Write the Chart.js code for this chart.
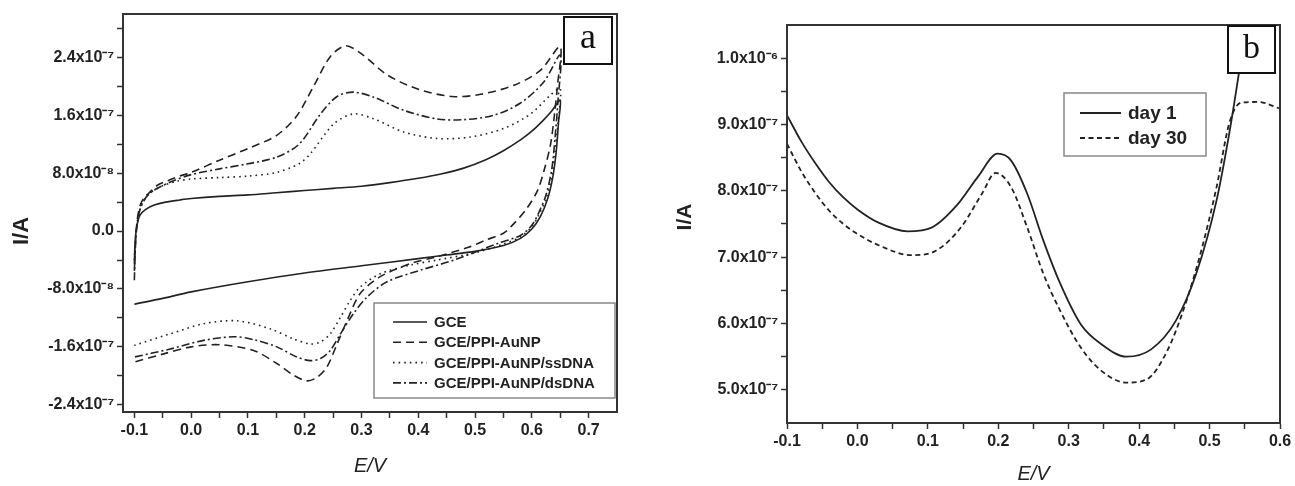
<!DOCTYPE html>
<html>
<head>
<meta charset="utf-8">
<script src="https://cdn.jsdelivr.net/npm/chart.js@4.4.0/dist/chart.umd.min.js"></script>
<style>
  body { margin: 0; background: #fff; }
  .panel { position: absolute; top: 0; height: 486px; }
  #wrap-a { left: 0; width: 650px; }
  #wrap-b { left: 650px; width: 645px; }
</style>
</head>
<body>
<div class="panel" id="wrap-a"><canvas id="cv-a"></canvas></div>
<div class="panel" id="wrap-b"><canvas id="cv-b"></canvas></div>
<script>
// PANEL A - cyclic voltammograms, current in units of 1e-8 A
const unitA = 1e-8;

const gceFwdE = [-0.1, -0.099, -0.097, -0.094, -0.09, -0.08, -0.065, -0.045, -0.02, 0.0, 0.05, 0.1, 0.15, 0.2, 0.25, 0.3, 0.35, 0.4, 0.44, 0.48, 0.52, 0.55, 0.58, 0.6, 0.62, 0.635, 0.65];
const gceFwdI = [-4.5, -2.0, 0.0, 1.3, 2.2, 3.0, 3.6, 4.0, 4.3, 4.5, 4.8, 5.0, 5.3, 5.6, 5.9, 6.2, 6.7, 7.3, 7.9, 8.7, 9.9, 11.1, 12.6, 13.8, 15.3, 16.6, 18.1];
const gceRevE = [0.647, 0.643, 0.637, 0.628, 0.615, 0.6, 0.58, 0.55, 0.5, 0.45, 0.4, 0.3, 0.2, 0.1, 0.0, -0.05, -0.1];
const gceRevI = [15.0, 11.0, 7.5, 4.5, 2.0, 0.3, -1.0, -2.0, -2.8, -3.3, -3.8, -4.8, -5.8, -7.0, -8.4, -9.3, -10.1];

const auFwdE = [-0.1, -0.098, -0.095, -0.09, -0.083, -0.075, -0.06, -0.04, -0.02, 0.0, 0.05, 0.1, 0.15, 0.185, 0.215, 0.245, 0.272, 0.3, 0.345, 0.4, 0.46, 0.51, 0.57, 0.615, 0.65];
const auFwdI = [-5.5, -1.5, 1.5, 3.5, 4.6, 5.2, 6.3, 7.0, 7.6, 8.1, 9.8, 11.4, 13.2, 15.8, 19.9, 24.1, 25.6, 24.5, 21.6, 19.6, 18.6, 18.9, 20.2, 22.2, 25.5];
const auRevE = [0.645, 0.64, 0.633, 0.622, 0.61, 0.59, 0.568, 0.55, 0.52, 0.49, 0.43, 0.386, 0.333, 0.298, 0.275, 0.257, 0.239, 0.222, 0.204, 0.18, 0.151, 0.11, 0.05, 0.0, -0.05, -0.1];
const auRevI = [20.0, 16.2, 12.0, 8.5, 5.6, 3.0, 1.0, -0.3, -1.2, -2.2, -3.6, -4.5, -6.3, -8.6, -12.3, -15.6, -18.8, -20.2, -20.7, -19.9, -18.3, -16.5, -15.7, -16.0, -17.0, -18.1];

const ssFwdE = [-0.1, -0.098, -0.095, -0.09, -0.084, -0.07, -0.049, -0.025, 0.0, 0.05, 0.1, 0.15, 0.19, 0.21, 0.251, 0.286, 0.322, 0.374, 0.433, 0.492, 0.551, 0.598, 0.633, 0.65];
const ssFwdI = [-4.0, -1.0, 1.2, 3.0, 4.2, 5.4, 6.3, 6.9, 7.2, 7.4, 7.6, 8.1, 9.3, 10.7, 14.8, 16.2, 15.5, 13.7, 12.8, 13.0, 14.2, 16.2, 18.8, 19.7];
const ssRevE = [0.646, 0.641, 0.635, 0.625, 0.612, 0.6, 0.58, 0.55, 0.5, 0.433, 0.386, 0.333, 0.298, 0.28, 0.263, 0.245, 0.228, 0.21, 0.18, 0.139, 0.081, 0.022, -0.037, -0.1];
const ssRevI = [15.0, 11.0, 7.5, 4.5, 2.2, 0.6, -0.8, -1.8, -3.0, -4.0, -4.7, -5.9, -7.7, -9.6, -11.9, -14.2, -15.3, -15.6, -14.9, -13.5, -12.4, -12.8, -14.2, -15.8];

const dsFwdE = [-0.1, -0.098, -0.095, -0.09, -0.08, -0.07, -0.055, -0.03, 0.0, 0.05, 0.1, 0.15, 0.19, 0.228, 0.257, 0.286, 0.322, 0.374, 0.433, 0.48, 0.533, 0.58, 0.621, 0.65];
const dsFwdI = [-6.8, -2.0, 1.0, 3.0, 4.6, 5.4, 6.1, 7.0, 7.8, 8.6, 9.3, 10.2, 12.0, 16.2, 18.6, 19.2, 18.5, 16.7, 15.5, 15.4, 16.0, 17.7, 20.6, 24.3];
const dsRevE = [0.646, 0.641, 0.635, 0.625, 0.612, 0.6, 0.58, 0.54, 0.463, 0.404, 0.345, 0.31, 0.286, 0.263, 0.245, 0.228, 0.21, 0.186, 0.151, 0.11, 0.075, 0.022, -0.037, -0.1];
const dsRevI = [18.0, 13.0, 8.5, 5.0, 2.5, 0.8, -0.6, -1.7, -4.0, -5.4, -7.0, -9.1, -11.4, -14.2, -16.5, -17.6, -17.9, -17.4, -16.0, -15.0, -14.6, -15.1, -16.3, -17.4];

const seriesA = ["GCE", "GCE/PPI-AuNP", "GCE/PPI-AuNP/ssDNA", "GCE/PPI-AuNP/dsDNA"];

const xTicksA = [-0.1, 0.0, 0.1, 0.2, 0.3, 0.4, 0.5, 0.6, 0.7];
const xLabelsA = ["-0.1", "0.0", "0.1", "0.2", "0.3", "0.4", "0.5", "0.6", "0.7"];
const xMinorA = [-0.05, 0.05, 0.15, 0.25, 0.35, 0.45, 0.55, 0.65];
const yTicksA = [-2.4e-7, -1.6e-7, -8e-8, 0, 8e-8, 1.6e-7, 2.4e-7];
const yLabelsA = ["-2.4x10\u207B\u2077", "-1.6x10\u207B\u2077", "-8.0x10\u207B\u2078", "0.0", "8.0x10\u207B\u2078", "1.6x10\u207B\u2077", "2.4x10\u207B\u2077"];
const yMinorA = [-2.0e-7, -1.2e-7, -4e-8, 4e-8, 1.2e-7, 2.0e-7, 2.8e-7];

// PANEL B - stability, current in units of 1e-7 A
const unitB = 1e-7;
const day1E = [-0.1, -0.08, -0.06, -0.04, -0.02, 0.0, 0.03, 0.071, 0.106, 0.141, 0.171, 0.199, 0.218, 0.241, 0.264, 0.288, 0.317, 0.346, 0.382, 0.417, 0.452, 0.481, 0.51, 0.528, 0.543, 0.553];
const day1I = [9.14, 8.75, 8.42, 8.13, 7.9, 7.72, 7.52, 7.39, 7.45, 7.78, 8.21, 8.56, 8.46, 7.96, 7.25, 6.6, 5.99, 5.69, 5.5, 5.61, 6.04, 6.75, 7.86, 8.87, 9.87, 10.6];
const day30E = [-0.1, -0.08, -0.06, -0.04, -0.02, 0.0, 0.03, 0.077, 0.112, 0.147, 0.177, 0.196, 0.218, 0.241, 0.264, 0.288, 0.317, 0.346, 0.382, 0.411, 0.44, 0.464, 0.487, 0.51, 0.528, 0.545, 0.569, 0.6];
const day30I = [8.71, 8.3, 7.97, 7.7, 7.5, 7.35, 7.18, 7.03, 7.1, 7.45, 7.96, 8.27, 8.06, 7.45, 6.75, 6.19, 5.64, 5.29, 5.11, 5.16, 5.59, 6.24, 7.05, 8.06, 9.02, 9.33, 9.34, 9.24];

const seriesB = ["day 1", "day 30"];

const xTicksB = [-0.1, 0.0, 0.1, 0.2, 0.3, 0.4, 0.5, 0.6];
const xLabelsB = ["-0.1", "0.0", "0.1", "0.2", "0.3", "0.4", "0.5", "0.6"];
const xMinorB = [-0.05, 0.05, 0.15, 0.25, 0.35, 0.45, 0.55];
const yTicksB = [5e-7, 6e-7, 7e-7, 8e-7, 9e-7, 1e-6];
const yLabelsB = ["5.0x10\u207B\u2077", "6.0x10\u207B\u2077", "7.0x10\u207B\u2077", "8.0x10\u207B\u2077", "9.0x10\u207B\u2077", "1.0x10\u207B\u2076"];
const yMinorB = [5.5e-7, 6.5e-7, 7.5e-7, 8.5e-7, 9.5e-7];

// helpers
const ink = "#222";
const sans = "'Liberation Sans', Arial, sans-serif";
const pts = (es, is, unit) => es.map((e, i) => ({ x: e, y: is[i] * unit }));
const tickList = (major, minor) => major.concat(minor).sort((a, b) => a - b).map(v => ({ value: v }));
const tickLabel = (major, labels) => v => {
  const i = major.findIndex(m => Math.abs(m - v) < 1e-12);
  return i < 0 ? "" : labels[i];
};

Chart.defaults.font.family = sans;
Chart.defaults.color = ink;

const axis = (min, max, major, minor, labels, title, fit) => ({
  type: "linear",
  min: min,
  max: max,
  afterBuildTicks: s => { s.ticks = tickList(major, minor); },
  afterFit: fit,
  ticks: { callback: tickLabel(major, labels), autoSkip: false, maxRotation: 0, font: { size: 16, weight: "bold" }, color: ink, padding: 3 },
  grid: { drawOnChartArea: false, drawTicks: true, tickLength: 6, tickColor: "#333", tickWidth: 1.5 },
  border: { color: "#333", width: 2 },
  title: title,
});

// frame, y title, legend and panel letter
const decor = (cfg) => ({
  id: "decor",
  afterDatasetsDraw(chart) {
    const { ctx, chartArea: a } = chart;
    ctx.save();
    ctx.strokeStyle = "#333";
    ctx.lineWidth = 2;
    ctx.strokeRect(a.left, a.top, a.right - a.left, a.bottom - a.top);

    // y axis title
    const T = cfg.yTitle;
    ctx.save();
    ctx.translate(T.x, T.y);
    ctx.rotate(-Math.PI / 2);
    ctx.font = "bold " + T.font + "px " + sans;
    ctx.fillStyle = ink;
    ctx.textAlign = "center";
    ctx.textBaseline = "middle";
    ctx.fillText(T.text, 0, 0);
    ctx.restore();

    const L = cfg.legend;
    ctx.fillStyle = "#fff";
    ctx.fillRect(L.x, L.y, L.w, L.h);
    ctx.strokeStyle = "#888";
    ctx.lineWidth = 1.5;
    ctx.strokeRect(L.x, L.y, L.w, L.h);
    ctx.font = "bold " + L.font + "px " + sans;
    ctx.textBaseline = "middle";
    chart.data.datasets.forEach((ds, i) => {
      const y = L.rowY + i * L.rowGap;
      ctx.strokeStyle = ink;
      ctx.lineWidth = ds.borderWidth;
      ctx.setLineDash(ds.borderDash || []);
      ctx.beginPath();
      ctx.moveTo(L.sx1, y);
      ctx.lineTo(L.sx2, y);
      ctx.stroke();
      ctx.setLineDash([]);
      ctx.fillStyle = ink;
      ctx.fillText(ds.label, L.tx, y + 1);
    });

    const B = cfg.box;
    ctx.fillStyle = "#fff";
    ctx.fillRect(B.x, B.y, B.w, B.h);
    ctx.strokeStyle = "#111";
    ctx.lineWidth = 2;
    ctx.strokeRect(B.x, B.y, B.w, B.h);
    ctx.fillStyle = "#111";
    ctx.font = B.font + "px 'Liberation Serif', 'Times New Roman', serif";
    ctx.textAlign = "center";
    ctx.textBaseline = "middle";
    ctx.fillText(B.text, B.x + B.w / 2, B.y + B.h / 2 + B.dy);
    ctx.restore();
  },
});

const lineSet = (label, data, dash, width, extra) => Object.assign({
  label: label,
  data: data,
  showLine: true,
  borderColor: ink,
  backgroundColor: ink,
  borderWidth: width,
  borderDash: dash,
  pointRadius: 0,
  fill: false,
}, extra);

// PANEL A CHART
const chartA = new Chart(document.getElementById("cv-a").getContext("2d"), {
  type: "scatter",
  data: {
    datasets: [
      lineSet(seriesA[0], pts(gceFwdE.concat(gceRevE), gceFwdI.concat(gceRevI), unitA), [], 1.6, { tension: 0.3 }),
      lineSet(seriesA[1], pts(auFwdE.concat(auRevE), auFwdI.concat(auRevI), unitA), [8, 5], 1.6, { tension: 0.3 }),
      lineSet(seriesA[2], pts(ssFwdE.concat(ssRevE), ssFwdI.concat(ssRevI), unitA), [1.6, 4], 1.6, { tension: 0.3 }),
      lineSet(seriesA[3], pts(dsFwdE.concat(dsRevE), dsFwdI.concat(dsRevI), unitA), [8, 3, 2, 3], 1.6, { tension: 0.3 }),
    ],
  },
  options: {
    responsive: true,
    maintainAspectRatio: false,
    animation: false,
    layout: { padding: { top: 14, right: 33, bottom: 0, left: 0 } },
    plugins: { legend: { display: false }, tooltip: { enabled: false } },
    scales: {
      x: axis(-0.12, 0.75, xTicksA, xMinorA, xLabelsA,
        { display: true, text: "E/V", font: { size: 20, style: "italic" }, padding: { bottom: 8 } },
        s => { s.height = 74; }),
      y: axis(-2.5e-7, 3.0e-7, yTicksA, yMinorA, yLabelsA, { display: false },
        s => { s.width = 123; }),
    },
  },
  plugins: [decor({
    yTitle: { x: 22, y: 231, text: "I/A", font: 22 },
    legend: { x: 374, y: 303, w: 241, h: 95, rowY: 322, rowGap: 20.3, sx1: 393, sx2: 427, tx: 434, font: 15 },
    box: { x: 564, y: 17, w: 48, h: 47, text: "a", font: 36, dy: -2 },
  })],
});

// PANEL B CHART
const chartB = new Chart(document.getElementById("cv-b").getContext("2d"), {
  type: "scatter",
  data: {
    datasets: [
      lineSet(seriesB[0], pts(day1E, day1I, unitB), [], 1.8, { cubicInterpolationMode: "monotone" }),
      lineSet(seriesB[1], pts(day30E, day30I, unitB), [5, 3.5], 1.8, { cubicInterpolationMode: "monotone" }),
    ],
  },
  options: {
    responsive: true,
    maintainAspectRatio: false,
    animation: false,
    layout: { padding: { top: 25, right: 15, bottom: 0, left: 0 } },
    plugins: { legend: { display: false }, tooltip: { enabled: false } },
    scales: {
      x: axis(-0.1, 0.6, xTicksB, xMinorB, xLabelsB,
        { display: true, text: "E/V", font: { size: 20, style: "italic" }, padding: { bottom: 0 } },
        s => { s.height = 63; }),
      y: axis(4.5e-7, 1.05e-6, yTicksB, yMinorB, yLabelsB, { display: false },
        s => { s.width = 137; }),
    },
  },
  plugins: [decor({
    yTitle: { x: 35, y: 217, text: "I/A", font: 21 },
    legend: { x: 414, y: 93, w: 142, h: 63, rowY: 113, rowGap: 25, sx1: 430, sx2: 471, tx: 478, font: 19 },
    box: { x: 578, y: 26, w: 47, h: 47, text: "b", font: 34, dy: 0 },
  })],
});
</script>
</body>
</html>
